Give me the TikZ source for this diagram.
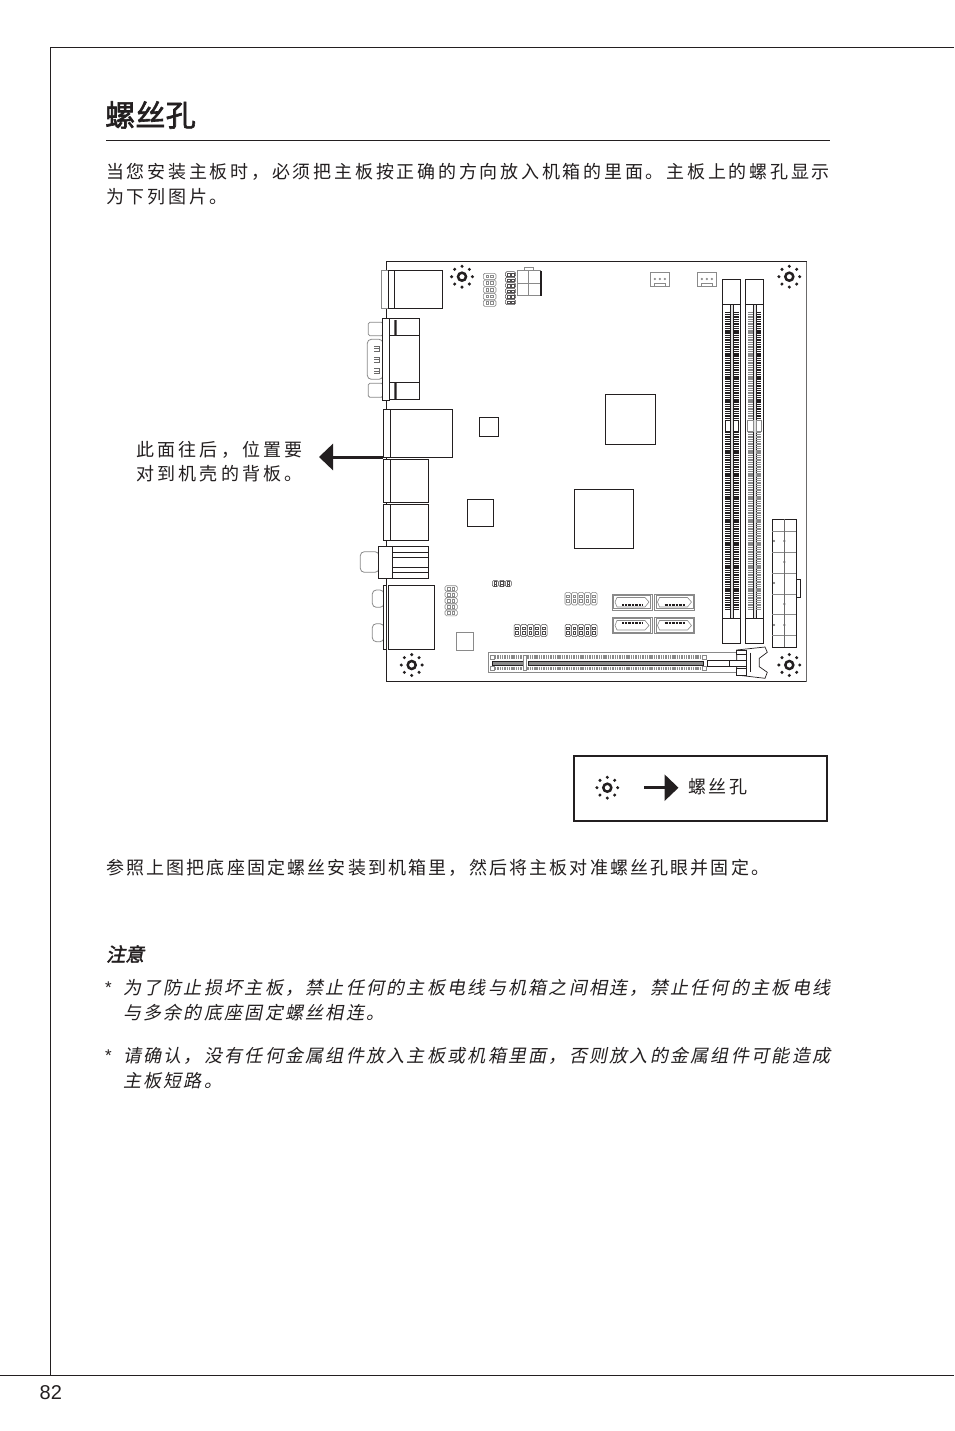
\documentclass[tikz,border=0pt]{standalone}
\usepackage{fontspec}
\usepackage{tikz}
\usetikzlibrary{arrows.meta}
\usetikzlibrary{calc}
\newfontfamily\cjkbody[LetterSpace=15.3]{Noto Sans CJK SC}
\newfontfamily\cjkplain[LetterSpace=12]{Noto Sans CJK SC}
\newfontfamily\cjklabel[LetterSpace=18]{Noto Sans CJK SC}
\newfontfamily\cjknote[LetterSpace=12.6,FakeSlant=0.2]{Noto Sans CJK SC}
\newfontfamily\cjkhead[FakeBold=2,FakeSlant=0.2]{Noto Sans CJK SC}
\newfontfamily\cjktitle[FakeBold=2,LetterSpace=1]{Noto Sans CJK SC}
\setmainfont{Liberation Sans}
\definecolor{ink}{HTML}{231F20}
\definecolor{pinline}{HTML}{8A8A8A}
\tikzstyle{line_text}=[anchor=west, inner sep=0pt, text=ink]
\tikzstyle{body_line}=[line_text, font=\fontsize{18}{18}\cjkbody]
\tikzstyle{plain_line}=[line_text, font=\fontsize{18}{18}\cjkplain]
\tikzstyle{label_line}=[line_text, font=\fontsize{18}{18}\cjklabel]
\tikzstyle{note_line}=[line_text, font=\fontsize{18}{18}\cjknote]
\tikzstyle{part}=[draw=ink, fill=white, line width=1pt]
\tikzstyle{part_gray}=[draw=pinline, fill=white, line width=.8pt]
\tikzstyle{hole_ring}=[circle, draw=ink, fill=white, line width=2.5pt, minimum size=8pt, inner sep=0pt]
\tikzstyle{hole_dot}=[circle, fill=ink, minimum size=3.4pt, inner sep=0pt]
\tikzstyle{teeth_dark}=[draw=ink, line width=5.3pt, dash pattern=on 1.4pt off .9pt]
\tikzstyle{teeth_gray}=[draw=pinline, line width=5.3pt, dash pattern=on 1.4pt off .9pt]
\tikzstyle{pins_gray}=[draw=pinline, line width=.6pt]
\tikzstyle{pins_dark}=[draw=ink!80, line width=.5pt]
% screw hole with its ring of dots
\newcommand{\screwhole}[3]{
  \node[hole_ring] (#1) at (#2,#3){};
  \foreach \a in {0,45,...,315}
    \node[hole_dot] at ($(#1)+(\a:10.4)$){};
}
% x, top, rows, width, pitch, style
\newcommand{\rowpins}[6]{
  \foreach \i in {1,...,#3}{
    \draw[#6, rounded corners=1.5pt] (#1,{#2+(\i-1)*#5}) rectangle ++(#4,#5-.4);
    \draw[#6] ({#1+#4*.22},{#2+(\i-1)*#5+1.6}) rectangle ++(2.6,2.6);
    \draw[#6] ({#1+#4*.58},{#2+(\i-1)*#5+1.6}) rectangle ++(2.6,2.6);
  }
}
% x, top, columns, pitch, height, style
\newcommand{\colpins}[6]{
  \foreach \i in {1,...,#3}{
    \draw[#6, rounded corners=1.5pt] ({#1+(\i-1)*#4},#2) rectangle ++(#4-.4,#5);
    \draw[#6] ({#1+(\i-1)*#4+1.6},{#2+#5*.2}) rectangle ++(2.6,2.6);
    \draw[#6] ({#1+(\i-1)*#4+1.6},{#2+#5*.58}) rectangle ++(2.6,2.6);
  }
}
% one memory slot
\newcommand{\dimmslot}[1]{
  \draw[part] (#1,279.3) rectangle ++(18.4,364);
  \draw[ink] (#1,304.3) -- ++(18.4,0) (#1,618.3) -- ++(18.4,0);
  \draw[ink, fill=pinline!25] ({#1+8},304.3) rectangle ({#1+11},618.3);
}
% one SATA port
\newcommand{\sataport}{
  \draw[part_gray] (0,0) rectangle (40,16.3);
  \draw[part_gray] (1.5,1.5) rectangle (38.5,14.8);
  \draw[pins_gray] (5,3.5) -- (33,3.5) -- (37,8) -- (33,13) -- (5,13) -- (3,8) -- cycle;
  \draw[draw=ink, line width=2pt, dash pattern=on .8pt off .6pt] (10,10.5) -- (30,10.5);
}
\begin{document}
\begin{tikzpicture}[x=1pt,y=-1pt]
\useasboundingbox (0,0) rectangle (954,1431);
\fill[white] (0,0) rectangle (954,1431);
% page frame
\coordinate (pagetl) at (50.5,47.5);
\coordinate (pagetr) at (954,47.5);
\coordinate (pagebl) at (50.5,1375.5);
\coordinate (footl) at (0,1375.5);
\coordinate (footr) at (954,1375.5);
\draw[ink] (pagetr) -- (pagetl) -- (pagebl);
\draw[ink] (footl) -- (footr);
\node[line_text, font=\fontsize{20}{20}\selectfont] (pagenum) at (39.5,1393){82};
% heading
\node[line_text, font=\fontsize{30}{30}\cjktitle] (title) at (105,115){螺丝孔};
\coordinate (rulel) at (106,140.5);
\coordinate (ruler) at (830,140.5);
\draw[ink] (rulel) -- (ruler);
\node[body_line] (intro0) at (106,171.5){当您安装主板时，必须把主板按正确的方向放入机箱的里面。主板上的螺孔显示};
\node[body_line] (intro1) at (106,196.5){为下列图片。};
% board
\draw[ink] (806.5,261.5) -- (386.5,261.5) -- (386.5,681.5) -- (806.5,681.5);
\draw[pinline!70!ink] (806.5,261.5) -- (806.5,681.5);
% back panel, top to bottom
\draw[part_gray] (381,270) rectangle (388.3,308.3);
\draw[part] (388.3,270) rectangle (442.7,308.3);
\draw[ink] (394.3,270) -- (394.3,308.3);
\draw[part_gray, rounded corners=1.5pt] (368.3,322.3) rectangle (383,335.7);
\draw[part_gray, rounded corners=1.5pt] (368.3,383.3) rectangle (383,397.3);
\draw[part_gray, rounded corners=4pt] (367.3,339.3) rectangle (383,379.3);
\foreach \y in {345.7,357,368.3}
  \draw[pinline!70!ink] (374,\y) -- (379.3,\y) -- (379.3,\y+5.3) -- (374,\y+5.3) (374,\y+2.6) -- (379.3,\y+2.6);
\draw[part] (389.7,318.3) rectangle (419.7,399.7);
\draw[part] (382.3,318.3) rectangle (389.7,400.7);
\draw[ink] (389.7,335.3) -- (419.7,335.3) (389.7,382.3) -- (419.7,382.3);
\fill[ink] (394.3,320) rectangle (396.7,335.3) (394.3,382.3) rectangle (396.7,399.7);
\draw[part] (390.3,409.3) rectangle (452.7,457.3);
\draw[part] (383.3,409.3) rectangle (390.3,457.3);
\draw[part] (390.3,459.3) rectangle (428.7,502.3);
\draw[part] (383.3,459.3) rectangle (390.3,502.3);
\draw[part] (390.3,504.3) rectangle (428.7,540.3);
\draw[part] (383.3,504.3) rectangle (390.3,540.3);
\draw[part_gray, rounded corners=4pt] (360.3,551.7) rectangle (379,572.3);
\draw[part] (392.7,546.3) rectangle (428.7,578.3);
\draw[part] (378.3,546.3) rectangle (392.7,578.3);
\draw[ink] (392.7,552.3) -- (428.7,552.3) (392.7,557) -- (428.7,557)
  (392.7,567.3) -- (428.7,567.3) (392.7,572.3) -- (428.7,572.3);
\draw[part_gray, rounded corners=4pt] (372.3,590) rectangle (384,607.3);
\draw[part_gray, rounded corners=4pt] (372.3,623.7) rectangle (384,641.7);
\draw[part] (383.3,585) rectangle (386.7,649.3);
\draw[part] (388,585.3) rectangle (434.3,649.3);
% arrow to the back panel label
\coordinate (panelarrow) at (383,457);
\coordinate (paneltip) at (319,457);
\draw[ink, line width=3pt, -{Triangle[length=14pt,width=26pt]}] (panelarrow) -- (paneltip);
\node[label_line] (panel0) at (136,449.5){此面往后，位置要};
\node[label_line] (panel1) at (136,473.5){对到机壳的背板。};
% chips
\draw[part] (605.3,394.3) rectangle (655.7,444.3);
\draw[part] (574.3,489.3) rectangle (633.3,548.3);
\draw[part] (479.3,417.3) rectangle (498.7,436.7);
\draw[part] (467.3,499.3) rectangle (493.7,526.7);
\draw[part_gray] (456,632.3) rectangle (473.7,650);
% screw holes
\screwhole{hole0}{462}{276.7}
\screwhole{hole1}{789.3}{276.7}
\screwhole{hole2}{411.7}{665}
\screwhole{hole3}{789.3}{665}
% headers
\rowpins{483.3}{273.3}{5}{12.7}{6.7}{pins_gray}
\rowpins{505.3}{271.7}{6}{10.4}{5.55}{pins_dark}
\rowpins{445}{585.7}{5}{12.3}{6.1}{pins_gray}
\colpins{565}{592.3}{5}{6.5}{12.7}{pins_gray}
\colpins{565}{624.3}{5}{6.5}{12.4}{pins_dark}
\colpins{514}{624.3}{5}{6.7}{12.4}{pins_dark}
\colpins{492.3}{580.3}{3}{6.5}{6.4}{pins_dark}
% power 4 pin
\draw[part_gray] (524.7,267.3) rectangle (533.7,270.7);
\draw[part_gray] (517.7,270.7) rectangle (540,295.7);
\draw[pinline] (528.5,270.7) -- (528.5,295.7) (517.7,283) -- (540,283);
\fill[ink] (539.5,270.7) rectangle (541.7,295.7);
% fan headers
\foreach \x in {650.3,697.3}{
  \draw[part_gray] (\x,272) rectangle ++(19,14.3);
  \draw[pinline] (\x+4,286.3) -- (\x+4,283) -- (\x+15,283) -- (\x+15,286.3);
  \foreach \d in {5,10,15}
    \fill[pinline] (\x+\d-.5,279) circle (1.2pt);
}
% memory slots
\dimmslot{722.3}
\dimmslot{745.3}
\draw[teeth_dark] (727.6,311.7) -- (727.6,420);
\draw[teeth_dark] (736,311.7) -- (736,420);
\draw[teeth_dark] (727.6,431.7) -- (727.6,610);
\draw[teeth_dark] (736,431.7) -- (736,610);
\draw[teeth_gray] (750.2,311.7) -- (750.2,420);
\draw[teeth_dark] (758.8,311.7) -- (758.8,420);
\draw[teeth_gray] (750.2,431.7) -- (750.2,610);
\draw[teeth_gray] (758.8,431.7) -- (758.8,610);
\draw[part] (725.5,420) rectangle (730,431);
\draw[part] (733.7,420) rectangle (738.5,431);
\draw[part_gray] (747.5,420) rectangle (753,431);
\draw[part_gray] (756,420) rectangle (761.5,431);
% SATA ports
\begin{scope}[shift={(612,594)}]\sataport\end{scope}
\begin{scope}[shift={(654.5,594)}]\sataport\end{scope}
\begin{scope}[shift={(612,633.5)}, yscale=-1]\sataport\end{scope}
\begin{scope}[shift={(654.5,633.5)}, yscale=-1]\sataport\end{scope}
% power 24 pin
\draw[part] (796.3,579.3) rectangle (800.7,597.3);
\draw[draw=ink, fill=white, line width=1.4pt] (772.3,519.3) rectangle (796.3,647.3);
\foreach \y in {530.7,552,572.7,594,614.3,635}
  \draw[pinline] (772.3,\y) -- (796.3,\y);
\draw[pinline!70!ink] (784.3,519.3) -- (784.3,647.3);
\foreach \y in {541,562,604,625}
  \fill[pinline!70!ink] (784.3,\y) circle (1.2pt);
\foreach \y in {541,583,625}
  \fill[pinline!70!ink] (774,\y) circle (1.2pt);
% expansion slot
\draw[part_gray] (488.7,652.7) rectangle (736.7,672.7);
\draw[teeth_gray, line width=3.3pt] (495,657) -- (702,657);
\draw[teeth_gray, line width=3.3pt] (495,668.4) -- (702,668.4);
\draw[draw=ink, fill=pinline] (492.3,660.7) rectangle (522.7,665.3);
\draw[draw=ink, fill=pinline] (527.7,660.7) rectangle (703.3,665.3);
\draw[part_gray] (523,655) rectangle (526.7,670.7);
\draw[part_gray] (490.3,655.3) rectangle (494,659);
\draw[part_gray] (490.3,666.7) rectangle (494,670.4);
\draw[part_gray] (702,655.5) rectangle (706,659);
\draw[part_gray] (702,666.7) rectangle (706,670.3);
\draw[part, line width=.7pt] (707.3,660) rectangle (729.3,666);
\draw[part, line width=.7pt] (736.7,650) -- (765,647) -- (767.3,652.3) -- (759.3,658.3) -- (759.3,666.7)
  -- (767.3,672.3) -- (765,678.3) -- (736.7,675) -- cycle;
\draw[part, line width=.6pt] (736.7,650) rectangle (746.7,654);
\draw[part, line width=.6pt] (736.7,668) rectangle (746.7,675);
\draw[part, line width=.6pt] (729.3,660) rectangle (746.7,666);
\draw[ink, line width=.6pt] (746.3,652.7) -- (746.3,671.7) (750.3,652.7) -- (750.3,671.7);
% legend
\draw[draw=ink, line width=2pt] (573.5,755.5) rectangle (827,821);
\screwhole{legendhole}{607.3}{787.7}
\coordinate (legendarrow) at (644,787.7);
\coordinate (legendtip) at (678.5,787.7);
\draw[ink, line width=3pt, -{Triangle[length=14pt,width=26pt]}] (legendarrow) -- (legendtip);
\node[body_line] (legendtext) at (688,787){螺丝孔};
% text below the board
\node[plain_line] (fixline) at (106,867.5){参照上图把底座固定螺丝安装到机箱里，然后将主板对准螺丝孔眼并固定。};
\node[line_text, font=\fontsize{19}{19}\cjkhead] (notehead) at (106,954){注意};
\node[line_text, font=\fontsize{17}{17}\selectfont] (star0) at (105,988){*};
\node[note_line] (note0) at (123,987.5){为了防止损坏主板，禁止任何的主板电线与机箱之间相连，禁止任何的主板电线};
\node[note_line] (note1) at (123,1012.5){与多余的底座固定螺丝相连。};
\node[line_text, font=\fontsize{17}{17}\selectfont] (star1) at (105,1056){*};
\node[note_line] (note2) at (123,1055.5){请确认，没有任何金属组件放入主板或机箱里面，否则放入的金属组件可能造成};
\node[note_line] (note3) at (123,1080.5){主板短路。};
\end{tikzpicture}
\end{document}
